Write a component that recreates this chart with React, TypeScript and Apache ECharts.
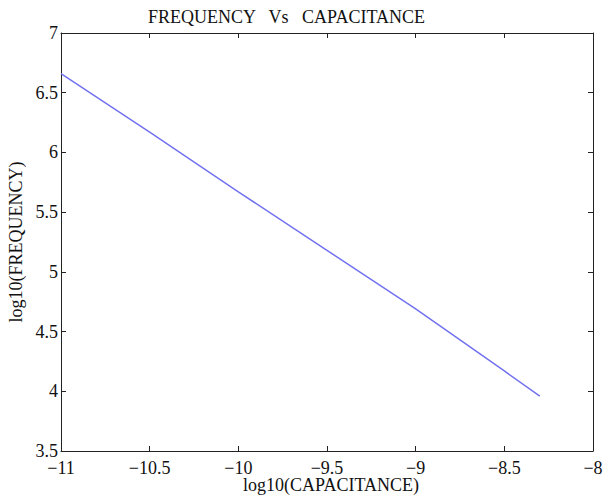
import React, { useEffect, useRef } from "react";
import * as echarts from "echarts";

const logCapacitance = [-11, -10.5, -10, -9.5, -9, -8.5, -8.3];
const logFrequency = [6.66, 6.17, 5.67, 5.18, 4.69, 4.17, 3.96];

const titleText = "FREQUENCY   Vs   CAPACITANCE";
const xName = "log10(CAPACITANCE)";
const yName = "log10(FREQUENCY)";

const FONT = "'Liberation Serif', 'Times New Roman', serif";
const minus = (v: number) => String(v).replace("-", "\u2212");

export default function App() {
  const ref = useRef<HTMLDivElement>(null);
  useEffect(() => {
    if (!ref.current) return;
    const chart = echarts.init(ref.current, undefined, { renderer: "svg" });
    const axisLine = { show: true, lineStyle: { color: "#222", width: 1 } };
    const tick = { show: true, inside: true, length: 5, lineStyle: { color: "#222", width: 1 } };
    const labelStyle = { color: "#111", fontFamily: FONT, fontSize: 18 };
    chart.setOption({
      animation: false,
      backgroundColor: "#fff",
      title: {
        text: titleText,
        left: 143,
        top: 3,
        textStyle: { fontFamily: FONT, fontSize: 18, fontWeight: "normal", color: "#111" },
      },
      graphic: [
        {
          type: "text",
          x: 331,
          y: 485,
          style: {
            text: xName,
            fill: "#111",
            font: "18px 'Liberation Serif', 'Times New Roman', serif",
            textAlign: "center",
            textVerticalAlign: "middle",
          },
        },
      ],
      grid: {
        left: 61,
        right: 12,
        top: 33,
        bottom: 46,
        containLabel: false,
        outerBoundsMode: "none",
      },
      xAxis: [
        {
          type: "value",
          min: -11,
          max: -8,
          interval: 0.5,
          position: "bottom",
          axisLine,
          axisTick: tick,
          splitLine: { show: false },
          axisLabel: { ...labelStyle, margin: 8, formatter: (v: number) => minus(v) },
        },
        {
          type: "value",
          min: -11,
          max: -8,
          interval: 0.5,
          position: "top",
          axisLine,
          axisTick: tick,
          splitLine: { show: false },
          axisLabel: { show: false },
        },
      ],
      yAxis: [
        {
          type: "value",
          min: 3.5,
          max: 7,
          interval: 0.5,
          position: "left",
          axisLine,
          axisTick: tick,
          splitLine: { show: false },
          axisLabel: { ...labelStyle, margin: 3 },
          name: yName,
          nameLocation: "middle",
          nameGap: 35,
          nameTextStyle: { ...labelStyle },
        },
        {
          type: "value",
          min: 3.5,
          max: 7,
          interval: 0.5,
          position: "right",
          axisLine,
          axisTick: tick,
          splitLine: { show: false },
          axisLabel: { show: false },
        },
      ],
      series: [
        {
          type: "line",
          data: logCapacitance.map((x, i) => [x, logFrequency[i]]),
          showSymbol: false,
          symbol: "none",
          lineStyle: { color: "#7272f0", width: 1.5 },
        },
      ],
    });
    return () => chart.dispose();
  }, []);
  return (
    <div
      ref={ref}
      style={{ position: "absolute", left: 0, top: 0, width: 605, height: 497 }}
    />
  );
}
